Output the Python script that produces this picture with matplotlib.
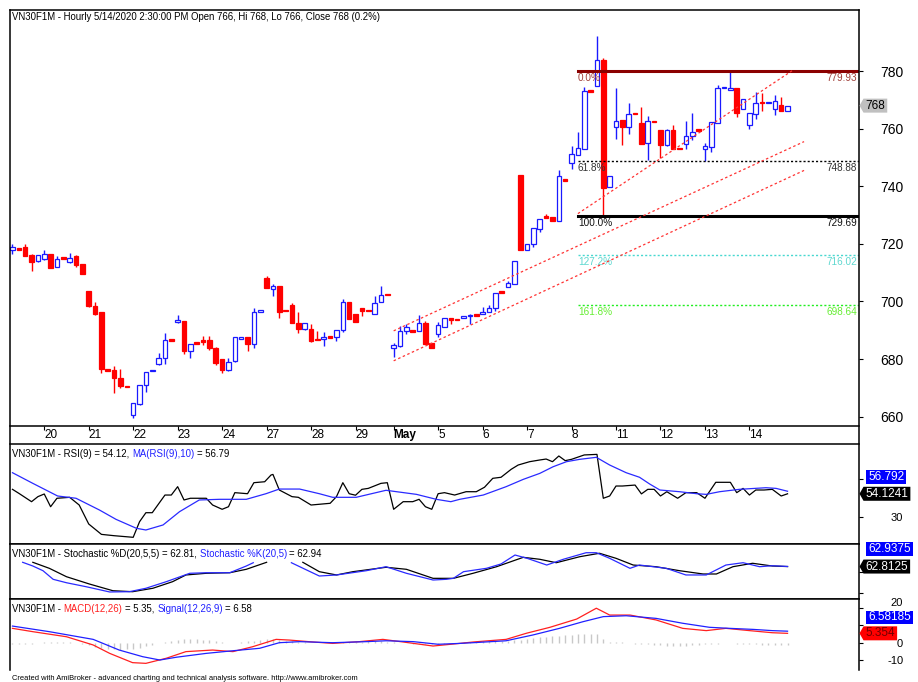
import numpy as np
import matplotlib
matplotlib.use("Agg")
import matplotlib.pyplot as plt
from matplotlib.lines import Line2D
from matplotlib.patches import Polygon
from matplotlib.transforms import IdentityTransform
from matplotlib.offsetbox import TextArea, HPacker, AnchoredOffsetbox

plt.rcParams["axes.unicode_minus"] = False

# ---------------- data ----------------
# hourly bars VN30F1M, 17 Apr .. 14 May 2020
opens = [718.0, 718.4, 718.8, 716.1, 713.9, 714.7, 716.5, 712.1, 715.0, 713.6,
         715.7, 712.9, 703.5, 698.5, 696.4, 676.4, 676.1, 673.6, 670.7, 660.5,
         664.5, 670.9, 675.8, 678.4, 680.5, 686.6, 692.7, 693.3, 682.9, 685.4,
         686.3, 686.7, 684.0, 680.0, 676.3, 679.4, 687.0, 687.5, 685.2, 696.4,
         708.0, 704.5, 705.5, 696.9, 698.7, 692.5, 690.6, 690.6, 686.9, 686.9,
         687.6, 687.7, 690.0, 699.9, 695.6, 697.6, 696.9, 695.8, 699.9, 702.3,
         683.7, 684.6, 689.6, 689.7, 689.6, 692.5, 685.7, 688.6, 691.3, 694.4,
         693.7, 694.2, 694.9, 695.3, 695.6, 696.2, 697.6, 703.2, 705.1, 706.0,
         743.9, 717.9, 720.0, 725.2, 729.3, 729.5, 727.8, 742.1, 748.1, 750.7,
         753.0, 773.1, 774.7, 784.0, 739.7, 760.5, 763.1, 760.5, 765.2, 761.9,
         755.1, 762.4, 759.6, 754.4, 759.6, 753.1, 754.7, 757.6, 759.5, 752.8,
         753.6, 762.0, 774.0, 773.5, 774.1, 766.7, 761.1, 765.2, 769.1, 768.8,
         766.7, 768.1, 766.0]
highs = [720.0, 718.4, 720.0, 716.5, 716.2, 718.0, 716.5, 715.7, 715.0, 716.8,
         716.0, 713.0, 703.5, 699.7, 696.4, 676.4, 677.6, 676.5, 670.7, 664.8,
         671.0, 675.5, 676.0, 682.0, 689.2, 686.6, 695.3, 693.3, 685.4, 685.4,
         688.0, 688.0, 684.3, 680.0, 680.5, 687.8, 687.2, 687.5, 697.9, 696.6,
         708.7, 706.0, 705.5, 696.9, 699.4, 696.4, 692.5, 692.1, 689.8, 689.5,
         687.6, 690.0, 700.8, 699.9, 695.6, 697.6, 696.9, 702.0, 705.5, 702.3,
         685.7, 691.5, 692.1, 689.7, 695.4, 693.3, 685.7, 692.7, 694.1, 694.4,
         693.7, 695.1, 695.8, 695.3, 698.1, 698.8, 703.1, 703.2, 707.0, 714.2,
         743.9, 720.0, 725.4, 728.6, 730.4, 729.5, 745.7, 742.1, 753.9, 758.8,
         774.4, 773.1, 792.2, 784.5, 743.7, 774.1, 763.1, 769.0, 765.2, 767.5,
         764.4, 762.4, 759.6, 760.0, 761.1, 753.1, 762.5, 765.5, 759.5, 755.1,
         762.3, 775.0, 774.2, 779.7, 774.1, 770.2, 765.5, 772.7, 772.5, 769.0,
         771.6, 771.0, 768.0]
lows = [716.5, 718.0, 715.7, 710.7, 713.8, 714.5, 711.5, 711.8, 714.8, 713.5,
        712.0, 709.5, 698.0, 695.3, 675.0, 676.0, 668.1, 670.0, 670.2, 659.6,
        664.0, 668.6, 675.8, 678.0, 678.2, 686.4, 692.6, 681.6, 680.5, 685.3,
        685.0, 683.2, 678.0, 675.1, 675.9, 679.0, 687.0, 682.8, 683.7, 696.4,
        704.7, 701.8, 694.1, 696.7, 692.4, 689.2, 690.0, 686.0, 686.6, 684.6,
        687.4, 686.3, 689.5, 693.9, 692.7, 695.0, 696.7, 695.8, 699.8, 702.1,
        680.8, 684.2, 688.6, 689.5, 689.6, 685.2, 683.7, 687.5, 691.0, 692.1,
        693.5, 694.2, 692.1, 695.1, 695.6, 696.2, 696.8, 703.0, 705.1, 706.0,
        717.9, 717.9, 718.8, 724.2, 729.1, 728.1, 727.8, 741.9, 746.0, 750.7,
        753.0, 772.9, 774.7, 730.0, 739.7, 756.5, 754.4, 758.2, 765.0, 754.7,
        749.0, 762.2, 749.8, 754.0, 752.8, 752.9, 753.0, 755.9, 759.3, 748.6,
        751.8, 762.0, 774.0, 773.3, 764.0, 766.7, 760.0, 763.4, 766.0, 768.8,
        764.6, 766.0, 766.0]
closes = [718.8, 718.0, 715.9, 713.8, 716.2, 716.5, 711.5, 714.7, 714.8, 715.1,
          712.6, 709.5, 698.5, 695.6, 676.7, 676.0, 673.6, 670.5, 670.2, 664.6,
          670.9, 675.5, 676.0, 680.5, 686.6, 686.4, 693.6, 682.9, 685.4, 685.3,
          686.1, 683.7, 678.6, 676.3, 679.0, 687.5, 687.2, 685.2, 696.4, 696.6,
          704.8, 705.5, 696.2, 696.7, 692.5, 690.6, 692.5, 686.3, 686.6, 687.8,
          687.4, 690.0, 699.9, 693.9, 692.7, 696.6, 696.7, 699.4, 702.2, 702.1,
          684.8, 689.8, 691.0, 689.5, 692.4, 685.2, 683.7, 691.8, 694.1, 693.6,
          693.5, 695.1, 695.1, 695.1, 696.4, 697.9, 703.1, 703.0, 706.3, 714.2,
          717.9, 720.0, 725.4, 728.6, 729.1, 728.1, 743.4, 741.9, 751.3, 753.2,
          773.0, 772.9, 784.0, 739.3, 743.7, 762.5, 760.5, 765.0, 765.0, 754.7,
          762.5, 762.2, 754.4, 759.6, 752.8, 752.9, 757.6, 759.0, 759.3, 753.9,
          762.3, 774.2, 774.2, 774.1, 765.5, 770.2, 765.5, 769.0, 768.9, 769.0,
          769.7, 766.0, 768.0]

day_starts = [5, 12, 19, 26, 33, 40, 47, 54, 60, 67, 74, 81, 88, 95, 102, 109, 116]
day_labels = ["20", "21", "22", "23", "24", "27", "28", "29", "May",
              "5", "6", "7", "8", "11", "12", "13", "14"]

fib_start = 89
fib_levels = [779.93, 748.88, 729.69, 716.02, 698.64]
fib_names = ["0.0%", "61.8%", "100.0%", "127.2%", "161.8%"]

# parallel channel lines (bar index, price)
trend_lines = [((89.0, 730.5), (122.7, 780.1)),
               ((60.0, 689.8), (124.6, 755.5)),
               ((60.0, 679.4), (124.6, 745.5))]

rsi_pts = [(0, 58.8), (1, 54.6), (3, 45.8), (4, 51.1), (5, 53.9), (6, 40.5), (7, 49.4),
           (9, 50.4), (10.5, 42.3), (12, 22.3), (14, 11.4), (16, 10), (19, 8.3), (20, 24.7),
           (21, 34.2), (22, 34.2), (24, 52.8), (25, 52.8), (26, 61.6), (27, 47.6), (28, 49.4),
           (30.5, 49.4), (31.5, 42.3), (33, 37.8), (34, 40.5), (35, 55.3), (37, 54.2), (38, 65.8),
           (39.7, 66.8), (40.7, 73.9), (41, 74.5), (42, 58.1), (44, 51.1), (45, 50.4), (47, 42.3),
           (50, 44.1), (51, 51.1), (52, 65.8), (53, 54.2), (54, 52.6), (55, 58.8), (56, 59.8),
           (58, 65.1), (59, 65.8), (60, 37.8), (61.5, 45.8), (63, 45.8), (64, 48.3), (65, 40.5),
           (66, 37.8), (67, 54.2), (68, 55.3), (69.6, 52.8), (71.4, 56.3), (73, 56.3), (74.3, 61),
           (75.6, 70.4), (76.9, 71.5), (78.5, 79.9), (79.6, 84.4), (81.4, 87.9), (83, 89.7),
           (84, 90.7), (85, 87.9), (86, 93.9), (87, 89), (88, 90.4), (90, 95), (92, 95.6),
           (93, 49.4), (94, 51.8), (95, 62.3), (96, 62.3), (98, 63.3), (99, 54), (100, 58.8),
           (101, 58.8), (102, 51.8), (103, 56.3), (104.7, 49.4), (106, 55.3), (107.7, 55.3),
           (109, 49.4), (110.7, 66.2), (113, 66.2), (114, 55.3), (115, 59.8), (116, 52.8),
           (117, 58.1), (118.3, 58.1), (119.6, 58.8), (121, 51.8), (122, 54.12)]
rsi_ma_pts = [(0, 76.3), (3.2, 65.1), (7.1, 51.8), (10, 49.4), (13.7, 37), (16.3, 27.2),
              (19.5, 17.8), (21, 16), (23.7, 21.3), (26.3, 35.3), (29.4, 47.6), (32.6, 48.3),
              (36.8, 48.3), (39.9, 54.2), (42, 59.1), (45.2, 59.1), (48.3, 54.2), (50.4, 50.4),
              (54.1, 50.4), (58.8, 57.8), (63.6, 53.5), (66.7, 48.3), (69, 45.8), (70.4, 48.3),
              (74.1, 52.8), (77.7, 61.6), (80.4, 69.3), (83, 75.6), (85.1, 82.6), (87.2, 87.9),
              (89.3, 90.4), (91.9, 92.5), (94, 84.4), (96.6, 76.3), (98.7, 71.5), (100.3, 64.4),
              (101.9, 58.1), (105, 56.3), (107.7, 54.2), (109.2, 53.5), (111.3, 56.3),
              (114.4, 58.8), (118.6, 60.5), (120.2, 59.8), (122, 56.79)]

nan = float("nan")
stoch_k_pts = [(1.6, 68.9), (3.2, 63.6), (4.8, 56.9), (6.4, 44.6), (8.5, 39.7), (11.6, 34.0),
               (15.3, 26.5), (18.4, 26.9), (21, 31.8), (24.2, 41.2), (27.9, 53.2), (30.5, 54.0),
               (34.2, 54.0), (36.8, 63.6), (37.9, 68.3), (40, nan), (43.9, 68.3), (46.3, 57.9),
               (48.3, 49.3), (51, 50.8), (55.7, 56.9), (58.8, 62.6), (62, 53.2), (66.2, 43.6),
               (68.3, 44.6), (69.4, 46.0), (71, 55.5), (74.6, 60.3), (76.9, 66.5), (79.1, 79.3),
               (81, 74.6), (84.1, 65.0), (86.7, 73.2), (90.3, 82.6), (91.9, 82.6), (94, 74.6),
               (97.2, 60.3), (98.7, 65.0), (102.9, 60.3), (106, 50.8), (109.2, 50.8),
               (112.3, 65.0), (115, 68.3), (117.6, 62.6), (119.6, 64.0), (122, 62.94)]
stoch_d_pts = [(3.2, 68.9), (5.8, 60.3), (8.5, 48.3), (12.1, 37.9), (15.8, 28.3), (18.9, 26.9),
               (22.1, 31.8), (25.2, 41.2), (27.3, 50.8), (30.5, 53.2), (34.2, 54.0), (36.8, 58.9),
               (40, 68.9), (42, nan), (45.7, 68.9), (48.3, 55.5), (51, 50.8), (53.6, 55.5),
               (58.8, 61.8), (62, 58.9), (66.2, 46.0), (69.4, 46.0), (72.5, 53.2), (76.2, 62.6),
               (80.4, 76.0), (83, 73.2), (85.6, 68.3), (89.3, 76.9), (92.4, 81.8), (95, 74.6),
               (97.7, 65.0), (101.3, 62.6), (105, 56.9), (108.7, 52.2), (110.8, 52.2),
               (113.4, 62.6), (116.5, 67.5), (119.6, 63.6), (122, 62.81)]

macd_pts = [(0, 8.2), (3.2, 6.3), (8.5, 3.4), (12.7, -1.3), (15.3, -6.1), (18.9, -11.4),
            (21, -11.8), (24.2, -8.9), (27.3, -5.1), (31.5, -4.2), (34.7, -5.1), (37.8, -2.3),
            (41.5, 1.9), (43.6, 1.5), (47.3, 0.4), (50.4, -0.4), (54.6, 0.6), (58.3, 1.9),
            (61.5, 0.4), (66.2, -1.9), (70.4, -0.4), (72.5, 0.4), (77.7, 1.9), (80.9, 5.4),
            (84.6, 8.8), (88.8, 13.5), (91.9, 19.7), (94, 15.8), (97.2, 15.8), (101.3, 13.0),
            (105.5, 8.2), (109.2, 6.9), (112.3, 8.2), (116, 6.9), (119.6, 5.7), (122, 5.35)]
signal_pts = [(0, 9.5), (5.8, 6.3), (12.7, 1.9), (16.8, -4.2), (20.5, -8.0), (23.2, -9.9),
              (25.8, -8.3), (30.5, -6.1), (34.7, -4.6), (38.9, -3.2), (42, 0), (45.2, 0.6),
              (50.4, 0), (55.7, 0.6), (58.8, 1.1), (63.1, 0.6), (67, -0.9), (70.4, -0.4),
              (72.5, 0), (77.7, 1.1), (81.9, 4.4), (86.1, 8.2), (89.8, 12.0), (93, 14.9),
              (96.6, 15.4), (101.3, 13.9), (105.5, 11.1), (109.7, 8.8), (112.9, 8.2),
              (116.6, 7.6), (119.6, 6.9), (122, 6.58)]
macd_hist = [-1.0, -1.0, -0.8, -0.5, -0.3, 0.2, 0.3, 0.3, 0.3, 0.2,
             0.0, -0.5, -1.5, -2.5, -3.2, -3.6, -3.8, -4.0, -3.8, -3.5,
             -3.0, -2.0, -1.2, -0.2, 0.6, 1.2, 1.8, 2.0, 2.0, 1.9,
             1.8, 1.6, 1.0, 0.3, -0.4, -0.3, 0.4, 0.8, 1.2, 1.6,
             2.0, 2.0, 1.8, 1.2, 0.8, 0.5, 0.3, 0.0, -0.2, -0.3,
             -0.4, -0.2, 0.2, 0.4, 0.5, 0.6, 0.8, 0.9, 0.8, 0.6,
             0.2, -0.2, -0.4, -0.6, -0.8, -0.9, -1.0, -0.8, -0.5, -0.3,
             0.0, 0.2, 0.4, 0.6, 0.8, 0.9, 1.0, 1.1, 1.2, 1.5,
             1.8, 2.2, 2.6, 3.0, 3.3, 3.6, 3.9, 4.2, 4.5, 4.7,
             4.8, 4.9, 4.8, 1.9, 0.3, 0.3, 0.3, 0.1, -0.5, -0.8,
             -1.0, -1.2, -1.5, -1.8, -2.0, -2.0, -1.8, -1.5, -1.2, -1.0,
             -0.8, -0.6, -0.4, -0.3, -0.5, -0.8, -1.0, -1.0, -1.2, -1.2,
             -1.3, -1.3, -1.2]

last_close = 768
rsi_last, rsi_ma_last = 54.1241, 56.792
stoch_d_last, stoch_k_last = 62.8125, 62.9375
macd_last, signal_last = 5.354, 6.58185

# ---------------- layout ----------------
W, H = 918, 682
L, R = 9.5, 858.7
X0, X1 = -0.47, 133.2
REG = ["Liberation Sans", "DejaVu Sans"]
NAR = ["Liberation Sans Narrow", "Liberation Sans", "DejaVu Sans"]
BLUE, RED = "#1a1aff", "#ff0000"
TSIZE = 6.9

fig = plt.figure(figsize=(W / 100, H / 100), dpi=100)
fig.patch.set_facecolor("white")


def panel(top, bottom):
    a = fig.add_axes([L / W, 1 - bottom / H, (R - L) / W, (bottom - top) / H])
    a.set_xlim(X0, X1)
    for s in ("left", "right"):
        a.spines[s].set_visible(False)
    for s in ("top", "bottom"):
        a.spines[s].set_linewidth(1.1)
    a.yaxis.tick_right()
    a.tick_params(axis="y", direction="out", length=3, width=0.8, pad=29)
    a.tick_params(axis="x", bottom=False, labelbottom=False)
    return a


ax = panel(10, 425.6)
ax_rsi = panel(443.5, 544)
ax_sto = panel(544, 599.3)
ax_macd = panel(599.3, 669)
ax_macd.spines["bottom"].set_visible(False)

for xp in (L, R):
    fig.add_artist(Line2D([xp / W, xp / W], [1 - 10 / H, 1 - 670 / H], color="black",
                          lw=1.1, transform=fig.transFigure))

# ---------------- price panel ----------------
x = np.arange(len(closes))
o, hi, lo, c = map(np.array, (opens, highs, lows, closes))
up = c >= o
ax.vlines(x, lo, hi, colors=np.where(up, BLUE, RED), lw=1.0, zorder=2)
body_lo = np.minimum(o, c)
body_h = np.maximum(np.abs(c - o), 0.5)
ax.bar(x[up], body_h[up], 0.72, bottom=body_lo[up], facecolor="white",
       edgecolor=BLUE, lw=0.9, zorder=3)
ax.bar(x[~up], body_h[~up], 0.72, bottom=body_lo[~up], facecolor=RED,
       edgecolor=RED, lw=0.9, zorder=3)

fib_cols = ["#8b0000", "black", "black", "#48d8d0", "#22ee22"]
fib_ls = ["-", (0, (1.5, 1.5)), "-", (0, (1.5, 1.5)), (0, (1.5, 1.5))]
fib_lw = [2.2, 1.0, 2.2, 1.0, 1.0]
fib_txt = ["#a0403a", "#333333", "#111111", "#5fd8d0", "#66ee33"]
for lv, name, fc, ls, lw, tc in zip(fib_levels, fib_names, fib_cols, fib_ls, fib_lw, fib_txt):
    ax.plot([fib_start, X1], [lv, lv], color=fc, ls=ls, lw=lw, zorder=4)
    ax.annotate(name, xy=(fib_start, lv), xytext=(0, -1.5), textcoords="offset points",
                ha="left", va="top", fontsize=7.2, color=tc, family=REG)
    ax.annotate(f"{lv:.2f}", xy=(1, lv), xycoords=("axes fraction", "data"),
                xytext=(-1, -1.5), textcoords="offset points", ha="right", va="top",
                fontsize=7.2, color=tc, family=REG)

for (xa, ya), (xb, yb) in trend_lines:
    ax.plot([xa, xb], [ya, yb], color="#ff3333", lw=0.9, ls=(0, (2, 2)), zorder=4)

ax.set_ylim(656.9, 801.2)
ax.set_yticks(range(660, 781, 20))
for t in ax.get_yticklabels():
    t.set_ha("right")
    t.set_fontsize(10)
    t.set_family(REG)

ax.tick_params(axis="x", bottom=True, labelbottom=True, direction="out", length=3.1,
               width=0.8, pad=-1)
ax.set_xticks(day_starts, day_labels)
for t in ax.get_xticklabels():
    t.set_ha("left")
    t.set_family(NAR)
    t.set_fontsize(8.5)
    if t.get_text() == "May":
        t.set_fontweight("bold")

# ---------------- indicators ----------------
def xy(pts):
    arr = np.array(pts, dtype=float)
    return arr[:, 0], arr[:, 1]


ax_rsi.plot(*xy(rsi_pts), color="black", lw=0.9)
ax_rsi.plot(*xy(rsi_ma_pts), color="#2a2aff", lw=0.9)
ax_rsi.set_ylim(1.26, 107.05)
ax_rsi.set_yticks([30, 70], ["30", ""])   # 70 sits under the value tag

ax_sto.plot(*xy(stoch_d_pts), color="black", lw=0.9)
ax_sto.plot(*xy(stoch_k_pts), color="#2a2aff", lw=0.9)
ax_sto.set_ylim(16.04, 95.04)
ax_sto.set_yticks([25, 55], ["", ""])

ax_macd.vlines(x, 0, macd_hist, colors="#c8c8c8", lw=1.0)
ax_macd.plot(*xy(macd_pts), color="#ff2020", lw=0.9)
ax_macd.plot(*xy(signal_pts), color="#2020ff", lw=0.9)
ax_macd.set_ylim(-15.03, 24.8)
ax_macd.set_yticks([-10, 0, 10, 20], ["-10", "0", "", "20"])   # 10 sits under the tags

for a in (ax_rsi, ax_sto, ax_macd):
    for t in a.get_yticklabels():
        t.set_ha("right")
        t.set_fontsize(8)
        t.set_family(NAR)
# the top MACD label peeks out above the signal tag
ax_macd.get_yticklabels()[-1].set_va("bottom")

# ---------------- titles ----------------
def title(parts, top_px):
    kids = [TextArea(s, textprops=dict(color=col, fontsize=TSIZE, family=REG)) for s, col in parts]
    box = HPacker(children=kids, align="baseline", pad=0, sep=1.9)
    fig.add_artist(AnchoredOffsetbox(loc="upper left", child=box, pad=0, borderpad=0,
                                     frameon=False, bbox_to_anchor=(12 / W, 1 - top_px / H),
                                     bbox_transform=fig.transFigure))


title([("VN30F1M - Hourly 5/14/2020 2:30:00 PM Open 766, Hi 768, Lo 766, Close 768 (0.2%)", "black")], 12.5)
title([("VN30F1M - RSI(9) = 54.12,", "black"), ("MA(RSI(9),10)", "#2020ff"), ("= 56.79", "black")], 449)
title([("VN30F1M - Stochastic %D(20,5,5) = 62.81,", "black"), ("Stochastic %K(20,5)", "#2020ff"),
       ("= 62.94", "black")], 549)
title([("VN30F1M -", "black"), ("MACD(12,26)", "#ff2020"), ("= 5.35,", "black"),
       ("Signal(12,26,9)", "#2020ff"), ("= 6.58", "black")], 603.5)

fig.text(12 / W, 1 - 678 / H,
         "Created with AmiBroker - advanced charting and technical analysis software. http://www.amibroker.com",
         fontsize=5.45, family=REG, va="center", ha="left")

# ---------------- value tags on the right ----------------
renderer = fig.canvas.get_renderer()


def tag(a, value, label, fc, tc, arrow, y=None, hh=7):
    if y is None:
        y = a.transData.transform((0, value))[1]
    left = 863.5 if arrow else 866
    t = fig.text((left + 2) / W, y / H, label, color=tc, fontsize=8.5, family=NAR,
                 ha="left", va="center", zorder=11)
    right = t.get_window_extent(renderer).x1 + 2
    if arrow:
        pts = [(859.5, y), (left, y + hh), (right, y + hh), (right, y - hh), (left, y - hh)]
    else:
        pts = [(left, y - hh), (left, y + hh), (right, y + hh), (right, y - hh)]
    fig.add_artist(Polygon(pts, closed=True, transform=IdentityTransform(), facecolor=fc,
                           edgecolor="none", zorder=10))
    return y


tag(ax, last_close, f"{last_close}", "#c0c0c0", "black", True)

yb = tag(ax_rsi, rsi_last, f"{rsi_last}", "black", "white", True)
tag(ax_rsi, rsi_ma_last, f"{rsi_ma_last}", "#0000ff", "white", False, y=yb + 17)

yb = tag(ax_sto, stoch_d_last, f"{stoch_d_last}", "black", "white", True)
tag(ax_sto, stoch_k_last, f"{stoch_k_last}", "#0000ff", "white", False, y=yb + 17.5)

yb = tag(ax_macd, macd_last, f"{macd_last}", "#ff0000", "#700000", True)
tag(ax_macd, signal_last, f"{signal_last}", "#0000ff", "white", False, y=yb + 16, hh=6.5)

fig.savefig("out.png", dpi=100)
